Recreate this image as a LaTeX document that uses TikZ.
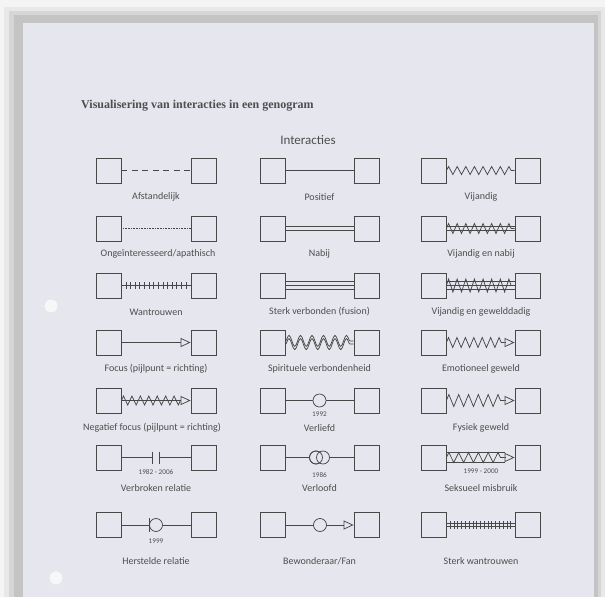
\documentclass[tikz,border=0pt]{standalone}
\usepackage{fontspec}
\setmainfont{Carlito}
\newfontfamily\titlefont{Liberation Serif}
\usetikzlibrary{arrows.meta,decorations.pathmorphing,calc}
\definecolor{pagec}{HTML}{E6E6EE}
\definecolor{ink}{HTML}{484848}
\definecolor{txt}{HTML}{4E4E4E}
\definecolor{outerc}{HTML}{F4F4F4}
\definecolor{framec}{HTML}{C4C4C4}
\definecolor{holec}{HTML}{F7F7F9}
\newcommand\cellboxes[4]{\node[box] (#1L) at (#2,#4) {};\node[box] (#1R) at (#3,#4) {};}
\begin{document}
\begin{tikzpicture}[x=1pt,y=-1pt,
  box/.style={draw=ink,line width=0.8pt,minimum size=25pt,inner sep=0pt,fill=pagec},
  conn/.style={draw=ink,line width=0.75pt},
  lab/.style={text=txt,font=\fontsize{10}{12}\selectfont,inner sep=0pt},
  yr/.style={text=txt,font=\fontsize{7.2}{8}\selectfont,inner sep=0pt},
  tip/.style={-{Triangle[open,length=10pt,width=9pt,line width=0.75pt]}},
  zig/.style 2 args={decorate,decoration={zigzag,segment length=#1,amplitude=#2}},
  wave/.style 2 args={decorate,decoration={snake,segment length=#1,amplitude=#2}},
  ring/.style={circle,draw=ink,line width=0.75pt,fill=pagec,minimum size=13pt,inner sep=0pt},
  hole/.style={circle,fill=holec,draw=black!12,minimum size=14pt,inner sep=0pt}
]
\useasboundingbox (0,0) rectangle (605,597);
\fill[outerc] (0,0) rectangle (605,597);
\fill[black!9] (4,7) rectangle (605,597);
\fill[black!16] (9,11) rectangle (601,597);
\fill[framec] (14,15) rectangle (598,597);
\fill[pagec] (23,23) rectangle (594,597);
\node[hole] (h1) at (51,306) {};
\node[hole] (h2) at (56,578) {};

\node[anchor=west,text=txt,font=\titlefont\bfseries\fontsize{12}{14}\selectfont,inner sep=0pt] (title) at (81,106) {Visualisering van interacties in een genogram};
\node[text=txt,font=\fontsize{13}{15}\selectfont,inner sep=0pt] (head) at (308,140) {Interacties};

% boxes
\cellboxes{p11}{108.5}{203.5}{170.5}\cellboxes{p12}{272.5}{366.5}{170.5}\cellboxes{p13}{433.5}{527.5}{170.5}
\cellboxes{p21}{108.5}{203.5}{228.5}\cellboxes{p22}{272.5}{366.5}{228.5}\cellboxes{p23}{433.5}{527.5}{228.5}
\cellboxes{p31}{108.5}{203.5}{285.5}\cellboxes{p32}{272.5}{366.5}{285.5}\cellboxes{p33}{433.5}{527.5}{285.5}
\cellboxes{p41}{108.5}{203.5}{342.5}\cellboxes{p42}{272.5}{366.5}{342.5}\cellboxes{p43}{433.5}{527.5}{342.5}
\cellboxes{p51}{108.5}{203.5}{400.5}\cellboxes{p52}{272.5}{366.5}{400.5}\cellboxes{p53}{433.5}{527.5}{400.5}
\cellboxes{p61}{108.5}{203.5}{457.5}\cellboxes{p62}{272.5}{366.5}{457.5}\cellboxes{p63}{433.5}{527.5}{457.5}
\cellboxes{p71}{108.5}{203.5}{525}\cellboxes{p72}{272.5}{366.5}{525}\cellboxes{p73}{433.5}{527.5}{525}

% labels
\node[lab] (l11) at (156,197) {Afstandelijk};
\node[lab] (l12) at (319.5,197) {Positief};
\node[lab] (l13) at (481,197) {Vijandig};
\node[lab] (l21) at (158,254) {Ongeïnteresseerd/apathisch};
\node[lab] (l22) at (319.5,254) {Nabij};
\node[lab] (l23) at (481,254) {Vijandig en nabij};
\node[lab] (l31) at (156,312) {Wantrouwen};
\node[lab] (l32) at (319.5,312) {Sterk verbonden (fusion)};
\node[lab] (l33) at (481,312) {Vijandig en gewelddadig};
\node[lab] (l41) at (156,369) {Focus (pijlpunt = richting)};
\node[lab] (l42) at (319.5,369) {Spirituele verbondenheid};
\node[lab] (l43) at (481,369) {Emotioneel geweld};
\node[lab] (l51) at (152,428) {Negatief focus (pijlpunt = richting)};
\node[lab] (l52) at (319.5,428) {Verliefd};
\node[lab] (l53) at (481,428) {Fysiek geweld};
\node[lab] (l61) at (156,488) {Verbroken relatie};
\node[lab] (l62) at (319.5,488) {Verloofd};
\node[lab] (l63) at (481,488) {Seksueel misbruik};
\node[lab] (l71) at (156,561) {Herstelde relatie};
\node[lab] (l72) at (319.5,561) {Bewonderaar/Fan};
\node[lab] (l73) at (481,561) {Sterk wantrouwen};

% row 1
\draw[conn,dash pattern=on 6pt off 4.5pt] (p11L.east) -- (p11R.west);
\draw[conn] (p12L.east) -- (p12R.west);
\draw[conn,zig={8.625}{4}] (p13L.east) -- (p13R.west);

% row 2
\draw[conn,line width=0.6pt,dash pattern=on 0.7pt off 0.9pt] (p21L.east) -- (p21R.west);
\draw[conn] ([yshift=2pt]p22L.east) -- ([yshift=2pt]p22R.west);
\draw[conn] ([yshift=-2pt]p22L.east) -- ([yshift=-2pt]p22R.west);
\draw[conn] ([yshift=1.8pt]p23L.east) -- ([yshift=1.8pt]p23R.west);
\draw[conn] ([yshift=-1.8pt]p23L.east) -- ([yshift=-1.8pt]p23R.west);
\draw[conn,zig={8.625}{5}] (p23L.east) -- (p23R.west);

% row 3
\draw[conn] (p31L.east) -- (p31R.west);
\foreach \i in {1,...,14} \draw[conn] ($(p31L.east)!\i/15!(p31R.west)$) +(0,-3.5) -- +(0,3.5);
\draw[conn] ([yshift=4pt]p32L.east) -- ([yshift=4pt]p32R.west);
\draw[conn] (p32L.east) -- (p32R.west);
\draw[conn] ([yshift=-4pt]p32L.east) -- ([yshift=-4pt]p32R.west);
\draw[conn] ([yshift=3.7pt]p33L.east) -- ([yshift=3.7pt]p33R.west);
\draw[conn] (p33L.east) -- (p33R.west);
\draw[conn] ([yshift=-3.7pt]p33L.east) -- ([yshift=-3.7pt]p33R.west);
\draw[conn,zig={8.625}{6.5}] (p33L.east) -- (p33R.west);

% row 4
\draw[conn,tip] (p41L.east) -- (p41R.west);
\draw[conn,wave={11.5}{5.5}] ([yshift=1.6pt]p42L.east) -- ([yshift=1.6pt]p42R.west);
\draw[conn,wave={11.5}{5.5}] ([yshift=-1.6pt]p42L.east) -- ([yshift=-1.6pt]p42R.west);
\coordinate (q43) at ($(p43R.west)+(-10,0)$);
\draw[conn,zig={8.43}{5}] (p43L.east) -- (q43);
\draw[conn,tip] (q43) -- (p43R.west);

% row 5
\coordinate (q51) at ($(p51R.west)+(-10,0)$);
\draw[conn,tip] (p51L.east) -- (p51R.west);
\draw[conn,zig={8.43}{4.5}] (p51L.east) -- (q51);
\draw[conn] (p52L.east) -- (p52R.west);
\node[ring] (r52) at (319.5,400.5) {};
\node[yr] (y52) at (319.5,414) {1992};
\coordinate (q53) at ($(p53R.west)+(-10,0)$);
\draw[conn,zig={9.83}{6}] (p53L.east) -- (q53);
\draw[conn,tip] (q53) -- (p53R.west);

% row 6
\coordinate (s61) at (152.5,457.5);
\coordinate (t61) at (159.5,457.5);
\draw[conn] (p61L.east) -- (s61);
\draw[conn] (t61) -- (p61R.west);
\draw[conn] (s61) +(0,-6) -- +(0,6);
\draw[conn] (t61) +(0,-6) -- +(0,6);
\node[yr] (y61) at (156,472) {1982 - 2006};
\draw[conn] (p62L.east) -- (p62R.west);
\node[ring] (r62a) at (316,457.5) {};
\node[ring] (r62b) at (323,457.5) {};
\draw[ink,line width=0.75pt] (r62a.center) circle (6.5);
\node[yr] (y62) at (319.5,475) {1986};
\coordinate (q63) at ($(p63R.west)+(-10,0)$);
\draw[conn] ([yshift=5pt]p63L.east) -- ([yshift=5pt]q63);
\draw[conn] ([yshift=-5pt]p63L.east) -- ([yshift=-5pt]q63);
\draw[conn,zig={9.83}{5}] (p63L.east) -- (q63);
\draw[conn,tip] (q63) -- (p63R.west);
\node[yr] (y63) at (481,471) {1999 - 2000};

% row 7
\coordinate (s71) at (149,525);
\node[ring] (r71) at (156,525) {};
\draw[conn] (p71L.east) -- (s71);
\draw[conn] (s71) +(0,-7) -- +(0,7);
\draw[conn] (r71.east) -- (p71R.west);
\node[yr] (y71) at (156,541) {1999};
\draw[conn,tip] (p72L.east) -- (p72R.west);
\node[ring] (r72) at (320,525) {};
\draw[conn] ([yshift=1.8pt]p73L.east) -- ([yshift=1.8pt]p73R.west);
\draw[conn] ([yshift=-1.8pt]p73L.east) -- ([yshift=-1.8pt]p73R.west);
\foreach \i in {1,...,17} \draw[conn] ($(p73L.east)!\i/18!(p73R.west)$) +(0,-4) -- +(0,4);
\end{tikzpicture}
\end{document}
